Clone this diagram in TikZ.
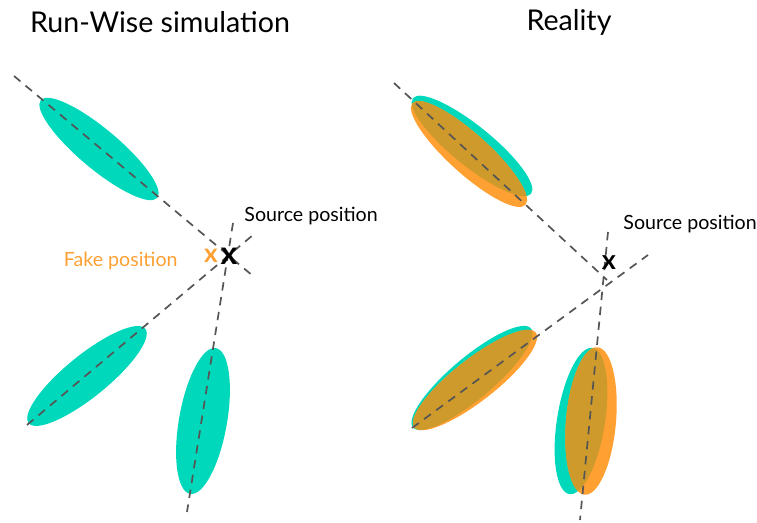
\documentclass[tikz,border=0pt]{standalone}
\usepackage{fontspec}
\setmainfont{Lato}
\usetikzlibrary{positioning}
\definecolor{Teal}{HTML}{00D8BC}
\definecolor{Amber}{HTML}{FFA033}
\definecolor{Ochre}{HTML}{CF9A2C}
\definecolor{Dash}{HTML}{555555}

\begin{document}
\begin{tikzpicture}[x=0.5pt,y=0.5pt,
  axis/.style={draw=Dash,line width=0.85pt,dash pattern=on 4.2pt off 3.3pt},
  title/.style={font=\fontsize{14.3}{16}\selectfont,inner sep=0pt},
  tag/.style={font=\fontsize{9.8}{12}\selectfont,inner sep=0pt},
  cross/.style={font=\fontsize{16}{16}\selectfont\bfseries,inner sep=0pt}
]
\useasboundingbox (0,0) rectangle (757,523);

% titles
\node[title] (simtitle) at (160,501) {Run-Wise simulation};
\node[title] (realtitle) at (569,501) {Reality};

% left panel: simulated spots
\fill[Teal,rotate around={-40:(99,374)}] (99,374) ellipse (76 and 20);
\fill[Teal,rotate around={39:(87,147)}] (87,147) ellipse (75 and 21);
\fill[Teal,rotate around={80:(203,102)}] (203,102) ellipse (74 and 24);

\coordinate (l1a) at (14,447);  \coordinate (l1b) at (253,247);
\coordinate (l2a) at (27,98);   \coordinate (l2b) at (253,288);
\coordinate (l3a) at (233,300); \coordinate (l3b) at (187,11);
\draw[axis] (l1a) -- (l1b);
\draw[axis] (l2a) -- (l2b);
\draw[axis] (l3a) -- (l3b);

\node[cross] (src) at (229,267) {x};
\node[cross,text=Amber,font=\fontsize{13}{13}\selectfont\bfseries] (fake) at (211,267) {x};
\node[tag,anchor=west] (srclbl) at (244,307) {Source position};
\node[tag,text=Amber,anchor=east] (fakelbl) at (178,262) {Fake position};

% right panel: true (teal) and shifted (amber) spots
\fill[Teal,rotate around={-39:(472,377)}] (472,377) ellipse (76 and 20);
\fill[Amber,rotate around={-42:(469,369)}] (469,369) ellipse (76 and 20);
\begin{scope}
  \clip[rotate around={-39:(472,377)}] (472,377) ellipse (76 and 20);
  \fill[Ochre,rotate around={-42:(469,369)}] (469,369) ellipse (76 and 20);
\end{scope}

\fill[Teal,rotate around={40:(472,145)}] (472,145) ellipse (77 and 21);
\fill[Amber,rotate around={38:(475,143)}] (475,143) ellipse (77 and 21);
\begin{scope}
  \clip[rotate around={40:(472,145)}] (472,145) ellipse (77 and 21);
  \fill[Ochre,rotate around={38:(475,143)}] (475,143) ellipse (77 and 21);
\end{scope}

\fill[Teal,rotate around={81:(581,102)}] (581,102) ellipse (74 and 24);
\fill[Amber,rotate around={85:(591,102)}] (591,102) ellipse (74 and 25);
\begin{scope}
  \clip[rotate around={81:(581,102)}] (581,102) ellipse (74 and 24);
  \fill[Ochre,rotate around={85:(591,102)}] (591,102) ellipse (74 and 25);
\end{scope}

\coordinate (r1a) at (394,440); \coordinate (r1b) at (607,243);
\coordinate (r2a) at (412,95);  \coordinate (r2b) at (648,268);
\coordinate (r3a) at (608,291); \coordinate (r3b) at (580,3);
\draw[axis] (r1a) -- (r1b);
\draw[axis] (r2a) -- (r2b);
\draw[axis] (r3a) -- (r3b);

\node[cross,font=\fontsize{13.5}{13.5}\selectfont\bfseries] (src2) at (609,260) {x};
\node[tag,anchor=west] (srclbl2) at (623,299) {Source position};
\end{tikzpicture}
\end{document}
